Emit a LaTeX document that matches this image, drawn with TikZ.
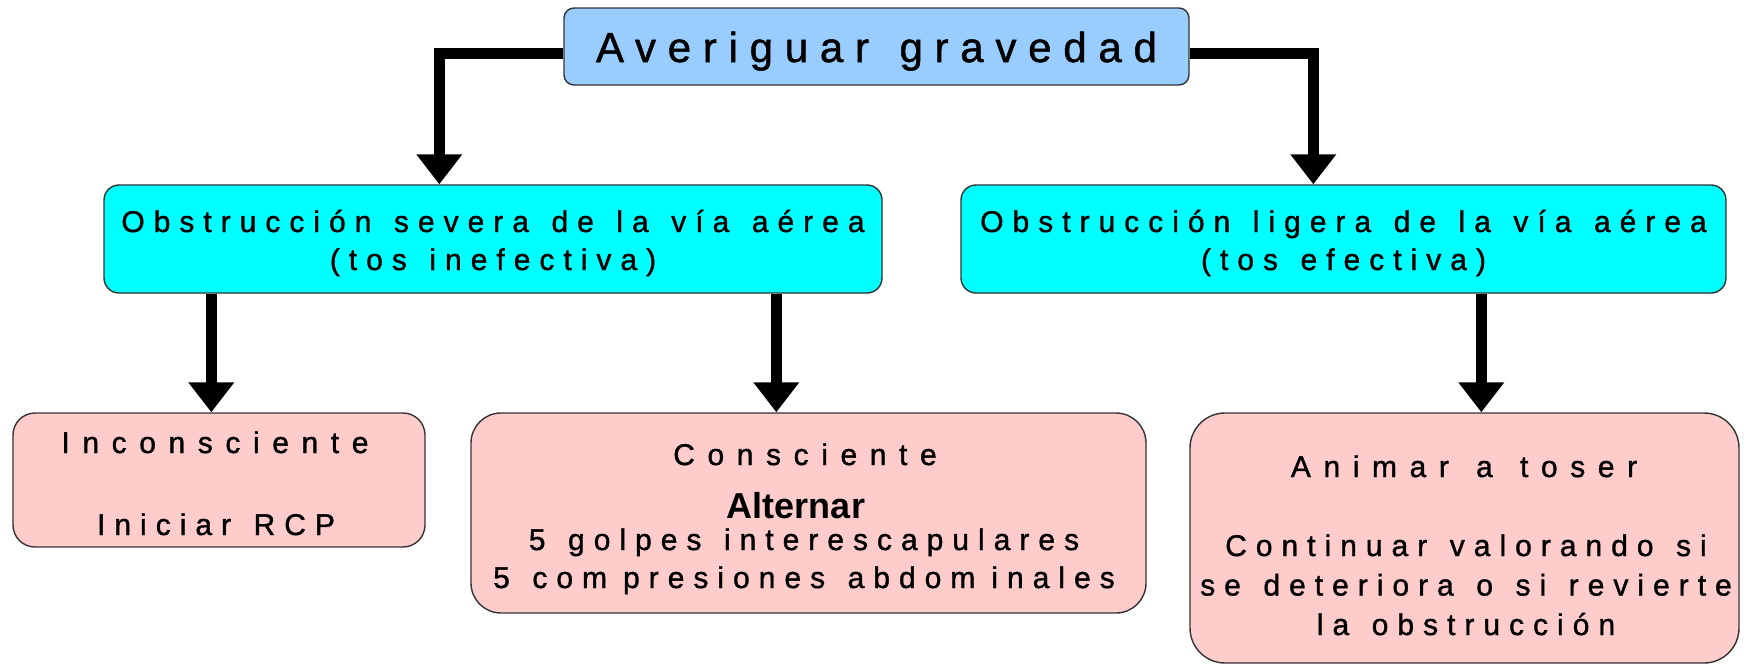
\documentclass[tikz,border=0pt]{standalone}
\usepackage{fontspec}
\setmainfont{Liberation Sans}
\newfontfamily\sfont[LetterSpace=30,WordSpace=1.3,FakeBold=1.2]{Liberation Sans}
\newfontfamily\titlefont[LetterSpace=42,WordSpace=1.3,FakeBold=1.2]{Liberation Sans}
\newfontfamily\topfont[LetterSpace=28,WordSpace=1.3,FakeBold=1.2]{Liberation Sans}
\newfontfamily\altfont{Liberation Sans}
\usetikzlibrary{arrows.meta}
\definecolor{topblue}{HTML}{99CCFF}
\definecolor{cyanbox}{HTML}{00FFFF}
\definecolor{pinkbox}{HTML}{FFCCCC}
\begin{document}
\begin{tikzpicture}[x=1pt,y=-1pt,
  box/.style={draw=black!80, line width=1.4pt, inner sep=0pt},
  txt/.style={anchor=base, align=center, inner sep=0pt, font=\sfont\fontsize{30}{38}\selectfont},
  conn/.style={line width=11pt, line join=miter, -{Triangle[width=44pt,length=30pt]}},
]
\useasboundingbox (0,0) rectangle (1761,665);
% boxes
\node[box, fill=topblue, rounded corners=10pt, minimum width=625pt, minimum height=77pt] (top) at (876.5,46.5) {};
\node[box, fill=cyanbox, rounded corners=15pt, minimum width=778pt, minimum height=108pt] (cyanL) at (493,239) {};
\node[box, fill=cyanbox, rounded corners=15pt, minimum width=765pt, minimum height=108pt] (cyanR) at (1343.5,239) {};
\node[box, fill=pinkbox, rounded corners=22pt, minimum width=412pt, minimum height=134pt] (incon) at (219,480) {};
\node[box, fill=pinkbox, rounded corners=30pt, minimum width=675pt, minimum height=200pt] (conc) at (808.5,513) {};
\node[box, fill=pinkbox, rounded corners=35pt, minimum width=549pt, minimum height=250pt] (anim) at (1464.5,538) {};
% texts (anchor base = baseline of the last line)
\node[txt, font=\topfont\fontsize{42}{50}\selectfont] (topT) at (876.5,62) {Averiguar gravedad};
\node[txt] (cyanLT) at (493,270) {Obstrucción severa de la vía aérea\\(tos inefectiva)};
\node[txt] (cyanRT) at (1343.5,270) {Obstrucción ligera de la vía aérea\\(tos efectiva)};
\node[txt, font=\titlefont\fontsize{30}{38}\selectfont] (inconT1) at (215,453) {Inconsciente};
\node[txt] (inconT2) at (216,535) {Iniciar RCP};
\node[txt, font=\titlefont\fontsize{30}{38}\selectfont] (concT1) at (805,465) {Consciente};
\node[txt, font=\altfont\bfseries\fontsize{36}{38}\selectfont] (concT2) at (796,518) {Alternar};
\node[txt] (concT3) at (804,588) {5 golpes interescapulares\\5 com\kern16pt presiones abdom\kern16pt inales};
\node[txt, font=\titlefont\fontsize{30}{38}\selectfont] (animT1) at (1464,477) {Animar a toser};
\node[txt, font=\sfont\fontsize{30}{39.5}\selectfont] (animT2) at (1466,635) {Continuar valorando si\\se deteriora o si revierte\\la obstrucción};
% connectors
\draw[conn] ([yshift=-6.5pt]top.west) -| ([xshift=336pt]cyanL.north west);
\draw[conn] ([yshift=-6.5pt]top.east) -| ([xshift=353pt]cyanR.north west);
\draw[conn] ([xshift=108pt]cyanL.south west) -- ([xshift=199pt]incon.north west);
\draw[conn] ([xshift=673pt]cyanL.south west) -- ([xshift=306pt]conc.north west);
\draw[conn] ([xshift=521pt]cyanR.south west) -- ([xshift=292pt]anim.north west);
\end{tikzpicture}
\end{document}
